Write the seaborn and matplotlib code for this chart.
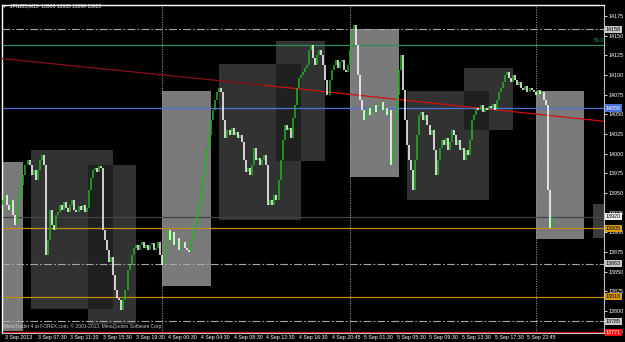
import matplotlib
matplotlib.use("Agg")
import numpy as np
import pandas as pd
import seaborn as sns
import matplotlib.pyplot as plt
import matplotlib.transforms as mtransforms
from matplotlib.patches import Rectangle

# ---------------- data ----------------
first_open = 13935
closes = [
    13941, 13948, 13935, 13928, 13941, 13922, 13909, 13928, 13948, 13960,
    13973, 13986, 13992, 13986, 13973, 13979, 13967, 13979, 13992, 13998,
    13986, 13871, 13890, 13928, 13909, 13903, 13922, 13926, 13935, 13928,
    13939, 13931, 13926, 13935, 13941, 13928, 13926, 13934, 13928, 13935,
    13926, 13931, 13954, 13969, 13979, 13982, 13977, 13984, 13982, 13903,
    13890, 13878, 13862, 13868, 13846, 13827, 13817, 13814, 13801, 13814,
    13827, 13852, 13858, 13871, 13880, 13884, 13878, 13884, 13888, 13880,
    13884, 13878, 13884, 13887, 13878, 13880, 13888, 13871, 13858, 13871,
    13884, 13903, 13890, 13901, 13884, 13893, 13878, 13884, 13888, 13880,
    13878, 13875, 13890, 13903, 13909, 13922, 13935, 13954, 13973, 13992,
    14007, 14024, 14043, 14055, 14068, 14078, 14083, 14078, 14043, 14020,
    14030, 14024, 14033, 14024, 14028, 14020, 14024, 14015, 13992, 13977,
    13982, 13973, 13986, 14007, 13992, 13995, 13986, 13992, 13998, 13986,
    13935, 13941, 13935, 13948, 13941, 13967, 13992, 14017, 14036, 14030,
    14033, 14020, 14045, 14062, 14083, 14096, 14100, 14104, 14109, 14113,
    14132, 14138, 14122, 14113, 14125, 14132, 14125, 14113, 14094, 14075,
    14094, 14106, 14113, 14119, 14109, 14116, 14119, 14106, 14104, 14113,
    14132, 14157, 14163, 14138, 14100, 14068, 14055, 14043, 14053, 14058,
    14049, 14055, 14062, 14053, 14058, 14066, 14055, 14058, 14049, 14055,
    13986, 14005, 14043, 14075, 14106, 14125, 14081, 14043, 14011, 13992,
    13979, 13954, 13992, 14024, 14049, 14053, 14043, 14049, 14036, 14024,
    14030, 14005, 13973, 13992, 14007, 14017, 14011, 14020, 14005, 14015,
    14030, 14024, 14011, 14017, 14005, 14007, 13992, 14005, 13998, 14017,
    14043, 14049, 14058, 14055, 14062, 14053, 14058, 14055, 14061, 14058,
    14063, 14055, 14068, 14078, 14083, 14091, 14100, 14104, 14096, 14091,
    14100, 14094, 14087, 14091, 14083, 14081, 14086, 14078, 14083, 14081,
    14078, 14075, 14081, 14076, 14078, 14068, 14062, 13954, 13906, 13920,
]

tick_bars = [0, 16, 32, 48, 64, 80, 96, 112, 128, 144, 160, 176, 192, 208, 224, 240, 256]
tick_labels = ["3 Sep 2013", "3 Sep 07:30", "3 Sep 11:30", "3 Sep 15:30", "3 Sep 19:30",
               "4 Sep 00:30", "4 Sep 04:30", "4 Sep 08:30", "4 Sep 12:30", "4 Sep 16:30",
               "4 Sep 20:45", "5 Sep 01:30", "5 Sep 05:30", "5 Sep 09:30", "5 Sep 13:30",
               "5 Sep 17:30", "5 Sep 22:45"]
price_ticks = [13775, 13800, 13825, 13850, 13875, 13900, 13925, 13950, 13975,
               14000, 14025, 14050, 14075, 14100, 14125, 14150, 14175]

# zones: start bar, end bar, top price, bottom price, kind
zone_start = [-1.0, 13.5, 41.4, 77.7, 105.6, 133.6, 169.9, 197.8, 225.7, 261.0, 289.0]
zone_end = [9.6, 53.7, 65.4, 101.7, 145.8, 157.6, 193.9, 238.0, 249.8, 284.6, 297.0]
zone_top = [13989, 14005, 13986, 14080, 14114, 14143, 14158, 14080, 14109, 14080, 13936]
zone_bottom = [13775, 13803, 13783, 13832, 13916, 13991, 13970, 13941, 14030, 13892, 13893]
zone_kind = ["light", "dark", "dark", "light", "dark", "dark", "light", "dark", "dark", "light", "mid"]
overlap_pairs = [(1, 2), (4, 5), (7, 8)]

# horizontal levels
level_price = [14158, 14138, 14058, 13920, 13905, 13860, 13818, 13787, 13773]
level_label = ["14158", None, "14058", "13920", "13905", "13863", "13818", "13785", "13771"]
level_color = ["#a8a8a8", "#2e8b57", "#4a72d8", "#3a4550", "#c08a10", "#a8a8a8", "#c08a10", "#a8a8a8", "#d01010"]
level_style = ["dashdot", "solid", "solid", "solid", "solid", "dashdot", "solid", "dashdot", "solid"]
label_bg = ["#c8c8c8", None, "#4a72d8", "#f0f0f0", "#d89a10", "#c8c8c8", "#d89a10", "#c8c8c8", "#ff1010"]
label_fg = ["black", None, "white", "black", "black", "black", "black", "black", "white"]

separators = [77.7, 170.0, 261.0]
trend_x = [-1.0, 128.0, 295.0]
trend_y = [14121, 14087, 14041]

# ---------------- figure ----------------
sns.set_theme(style="dark", rc={"axes.facecolor": "black", "figure.facecolor": "black"})
plt.rcParams["font.family"] = ["Liberation Sans", "DejaVu Sans"]

fig = plt.figure(figsize=(6.25, 3.42), dpi=100)
ax = fig.add_axes([2 / 625, 9 / 342, 602 / 625, 328 / 342])
ax.set_facecolor("black")
ax.set_xlim(-0.5, 294.5)
ax.set_ylim(13772, 14189)

colors_map = {"light": "#7a7a7a", "dark": "#323232", "mid": "#3a3a3a"}
for s, e, t, b, k in zip(zone_start, zone_end, zone_top, zone_bottom, zone_kind):
    ax.add_patch(Rectangle((s, b), e - s, t - b, facecolor=colors_map[k], edgecolor="none", zorder=1))
for p, q in overlap_pairs:
    s = max(zone_start[p], zone_start[q]); e = min(zone_end[p], zone_end[q])
    b = max(zone_bottom[p], zone_bottom[q]); t = min(zone_top[p], zone_top[q])
    ax.add_patch(Rectangle((s, b), e - s, t - b, facecolor="#202020", edgecolor="none", zorder=1.1))

# levels
for pr, col, st in zip(level_price, level_color, level_style):
    ls = (0, (7, 2, 1.5, 2)) if st == "dashdot" else "-"
    ax.axhline(pr, color=col, lw=0.9 if st == "solid" else 0.8, ls=ls, zorder=2)

for sx in separators:
    ax.axvline(sx, color="#909090", lw=0.8, ls=(0, (1, 1.2)), zorder=2)

# trend line (seaborn)
tdf = pd.DataFrame({"bar": trend_x, "price": trend_y})
ax.plot(trend_x[:2], trend_y[:2], color="#8a1010", lw=0.9, zorder=3)
sns.lineplot(data=tdf.iloc[1:], x="bar", y="price", ax=ax, color="#d01010", lw=0.9, zorder=3)

# candles
opens = [first_open] + closes[:-1]
idx = np.arange(len(closes))
o = np.array(opens, dtype=float); c = np.array(closes, dtype=float)
lo = np.minimum(o, c); hi = np.maximum(o, c)
hi = np.where(hi - lo < 1.5, lo + 1.5, hi)
up = c >= o
ax.vlines(idx[up], lo[up], hi[up], color="#1fb51f", lw=1.1, zorder=4)
ax.vlines(idx[~up], lo[~up], hi[~up], color="white", lw=1.1, zorder=4)

# axes styling
for sp in ["left", "top"]:
    ax.spines[sp].set_color("white"); ax.spines[sp].set_linewidth(1.0)
for sp in ["right", "bottom"]:
    ax.spines[sp].set_color("#c0c0c0"); ax.spines[sp].set_linewidth(0.8)
ax.set_xlabel(""); ax.set_ylabel("")
ax.grid(False)

ax.yaxis.tick_right()
ax.set_yticks(price_ticks)
ax.set_yticklabels([str(p) for p in price_ticks])
ax.tick_params(axis="y", colors="white", labelsize=3.9, length=2, width=0.6, pad=1.5, direction="out")
ax.set_xticks(tick_bars)
ax.set_xticklabels([])
ax.tick_params(axis="x", colors="white", length=2.2, width=0.6, direction="out")

xtrans = mtransforms.blended_transform_factory(ax.transData, ax.transAxes) + \
    mtransforms.ScaledTranslation(2 / 100, -1.5 / 100, fig.dpi_scale_trans)
for b, lab in zip(tick_bars, tick_labels):
    ax.text(b, 0, lab, transform=xtrans, ha="left", va="top", fontsize=3.8, color="white", clip_on=False)

# price boxes on right
trans = mtransforms.blended_transform_factory(ax.transAxes, ax.transData)
for pr, lab, bg, fg in zip(level_price, level_label, label_bg, label_fg):
    if lab is None:
        continue
    ax.text(1.003, pr, lab, transform=trans, ha="left", va="center", fontsize=3.9, color=fg,
            bbox=dict(boxstyle="square,pad=0.2", facecolor=bg, edgecolor="none"), zorder=10, clip_on=False)

ax.text(289.5, 14141, "50.0", color="#2e9b57", fontsize=3.8, ha="left", va="bottom", zorder=5)

fig.text(3 / 625, 1 - 5.5 / 342, "\u25be", color="white", fontsize=4.5, ha="left", va="center",
         family="DejaVu Sans")
fig.text(10 / 625, 1 - 5.5 / 342, "JPN225,M15  13905 13935 13890 13920", color="white",
         fontsize=3.6, ha="left", va="center")
fig.text(4 / 625, 1 - 326 / 342, "MetaTrader 4 at FOREX.com, \u00a9 2001-2013, MetaQuotes Software Corp.",
         color="#c8c8c8", fontsize=3.5, ha="left", va="center")

fig.savefig("out.png", dpi=100, facecolor="black")
